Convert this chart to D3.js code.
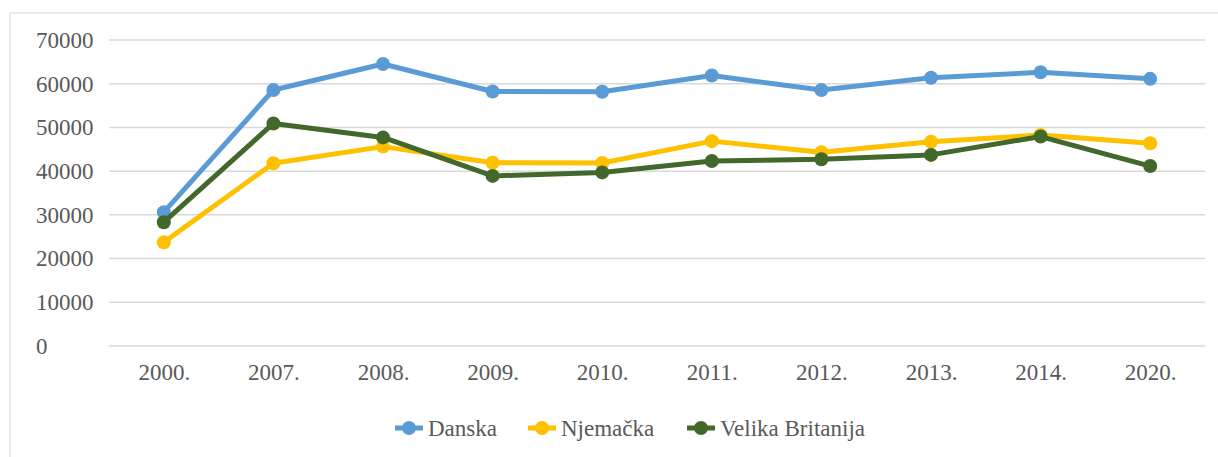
<!DOCTYPE html>
<meta charset="utf-8">
<style>
body { margin: 0; background: #fff; }
.grid line { stroke: #d9d9d9; stroke-width: 1.5; }
</style>
<body>
<svg width="1218" height="457"></svg>
<script src="https://d3js.org/d3.v7.min.js"></script>
<script>
// chart data
var years = ["2000.", "2007.", "2008.", "2009.", "2010.", "2011.", "2012.", "2013.", "2014.", "2020."];
var danska = [30500, 58450, 64400, 58100, 58050, 61750, 58450, 61250, 62500, 61000];
var njemacka = [23600, 41700, 45500, 41800, 41750, 46750, 44200, 46600, 48150, 46250];
var britanija = [28200, 50800, 47600, 38800, 39600, 42200, 42600, 43600, 47800, 41050];
var seriesNames = ["Danska", "Njemačka", "Velika Britanija"];
var seriesColors = ["#5b9bd5", "#ffc000", "#43682b"];
var yTicks = [0, 10000, 20000, 30000, 40000, 50000, 60000, 70000];

var FONT = "'Liberation Serif', 'Times New Roman', serif";

var svg = d3.select("svg");

// outer chart frame (only top and left show in the crop)
svg.append("rect")
    .attr("x", 10).attr("y", 13)
    .attr("width", 1300).attr("height", 500)
    .attr("fill", "none")
    .attr("stroke", "#e3e3e3")
    .attr("stroke-width", 1.5);

var x = d3.scalePoint().domain(years).range([109, 1205]).padding(0.5);
var y = d3.scaleLinear().domain([0, 70000]).range([345.5, 39.5]);

// gridlines + y labels
var yAxis = svg.append("g")
    .attr("class", "grid")
    .attr("transform", "translate(109,0)")
    .call(d3.axisLeft(y).tickValues(yTicks).tickSize(-1096).tickFormat(d3.format("d")));
yAxis.select(".domain").remove();
yAxis.selectAll("text")
    .attr("x", -73)
    .attr("text-anchor", "start")
    .attr("dy", "0.34em")
    .style("font-family", FONT)
    .style("font-size", "23px")
    .style("fill", "#595959");

// x labels
var xAxis = svg.append("g")
    .attr("transform", "translate(0,345.5)")
    .call(d3.axisBottom(x).tickSize(0));
xAxis.select(".domain").remove();
xAxis.selectAll("text")
    .attr("y", 34)
    .attr("dy", 0)
    .style("font-family", FONT)
    .style("font-size", "23px")
    .style("fill", "#595959");

var allSeries = [danska, njemacka, britanija];

var line = d3.line()
    .x(function(d, i) { return x(years[i]); })
    .y(function(d) { return y(d); });

allSeries.forEach(function(vals, k) {
  var g = svg.append("g");
  g.append("path")
      .datum(vals)
      .attr("d", line)
      .attr("fill", "none")
      .attr("stroke", seriesColors[k])
      .attr("stroke-width", 5)
      .attr("stroke-linejoin", "round");
  g.selectAll("circle")
      .data(vals)
    .enter().append("circle")
      .attr("cx", function(d, i) { return x(years[i]); })
      .attr("cy", function(d) { return y(d); })
      .attr("r", 7)
      .attr("fill", seriesColors[k]);
});

// legend
var legendX = [409, 542, 701];
var legend = svg.append("g");
seriesNames.forEach(function(name, k) {
  var lg = legend.append("g").attr("transform", "translate(" + legendX[k] + ",428)");
  lg.append("line")
      .attr("x1", -14).attr("x2", 14)
      .attr("stroke", seriesColors[k])
      .attr("stroke-width", 5);
  lg.append("circle").attr("r", 7).attr("fill", seriesColors[k]);
  lg.append("text")
      .attr("x", 19)
      .attr("y", 8)
      .style("font-family", FONT)
      .style("font-size", "23px")
      .style("fill", "#595959")
      .text(name);
});
</script>
</body>
